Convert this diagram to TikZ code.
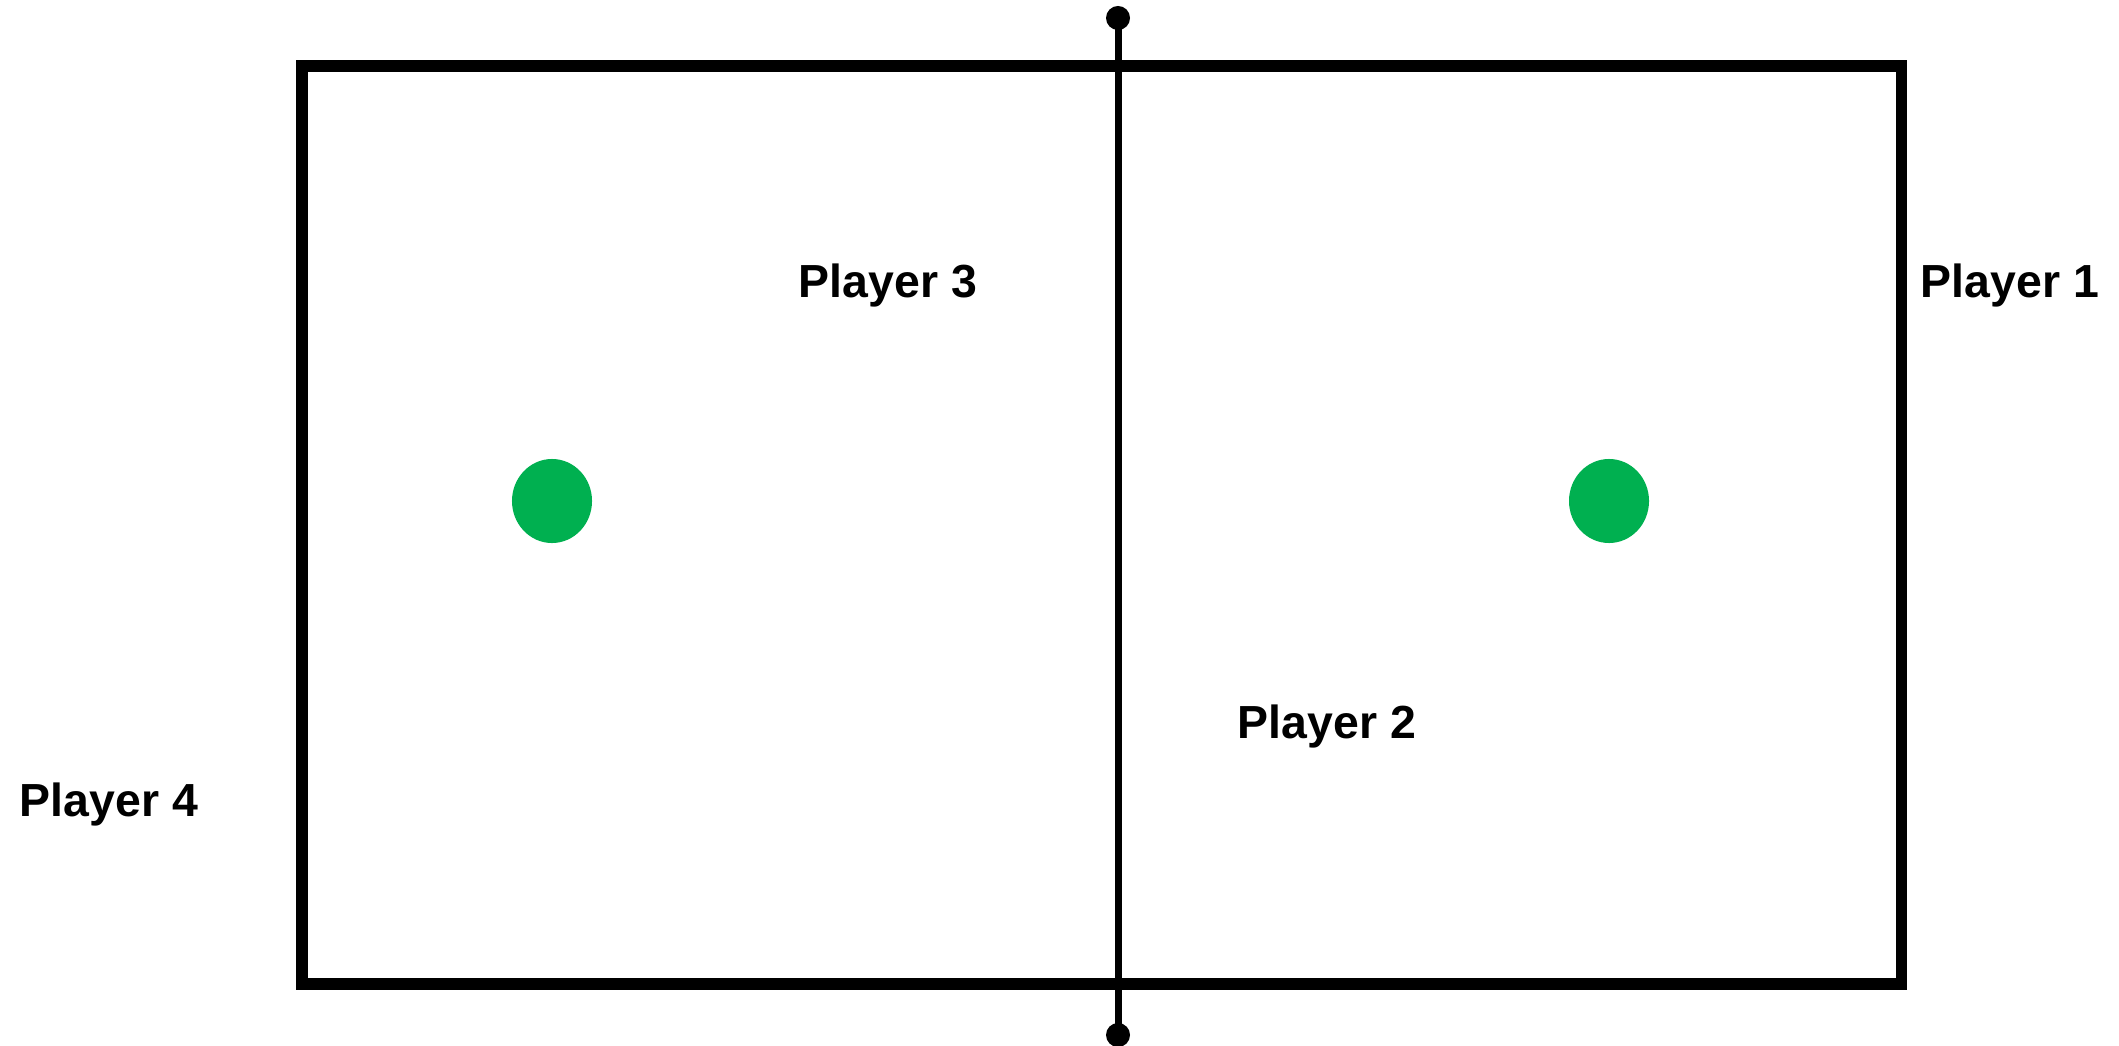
\documentclass[tikz,border=0pt]{standalone}
\usepackage{fontspec}
\setmainfont{Liberation Sans}
\usepackage{xcolor}
\usetikzlibrary{arrows.meta,positioning,shapes.geometric}
\definecolor{ballgreen}{RGB}{0,176,80}

\begin{document}
\begin{tikzpicture}[
  x=0.01cm, y=-0.01cm,
  every node/.style={font=\fontsize{13.2}{15}\selectfont\bfseries},
  court/.style={draw, line width=3.4pt, minimum width=15.99cm, minimum height=9.18cm, inner sep=0pt},
  post/.style={circle, fill=black, minimum size=0.24cm, inner sep=0pt},
  ball/.style={ellipse, fill=ballgreen, minimum width=0.8cm, minimum height=0.84cm, inner sep=0pt},
  net/.style={line width=2pt},
  player/.style={anchor=base, inner sep=0pt},
]
\useasboundingbox (0,0) rectangle (2119,1046);

% Court outline
\node[court] (court) at (1101.5,525) {};

% Net with posts
\node[post] (netTop) at (1118,18) {};
\node[post] (netBot) at (1118,1035) {};
\draw[net] (netTop.center) -- (netBot.center);

% Balls
\node[ball] (ballL) at (552,501) {};
\node[ball] (ballR) at (1609,501) {};

% Players
\node[player] (p3) at (888,298) {Player 3};
\node[player] (p1) at (2010,298) {Player 1};
\node[player] (p2) at (1327,738) {Player 2};
\node[player] (p4) at (109,816) {Player 4};

\end{tikzpicture}
\end{document}
